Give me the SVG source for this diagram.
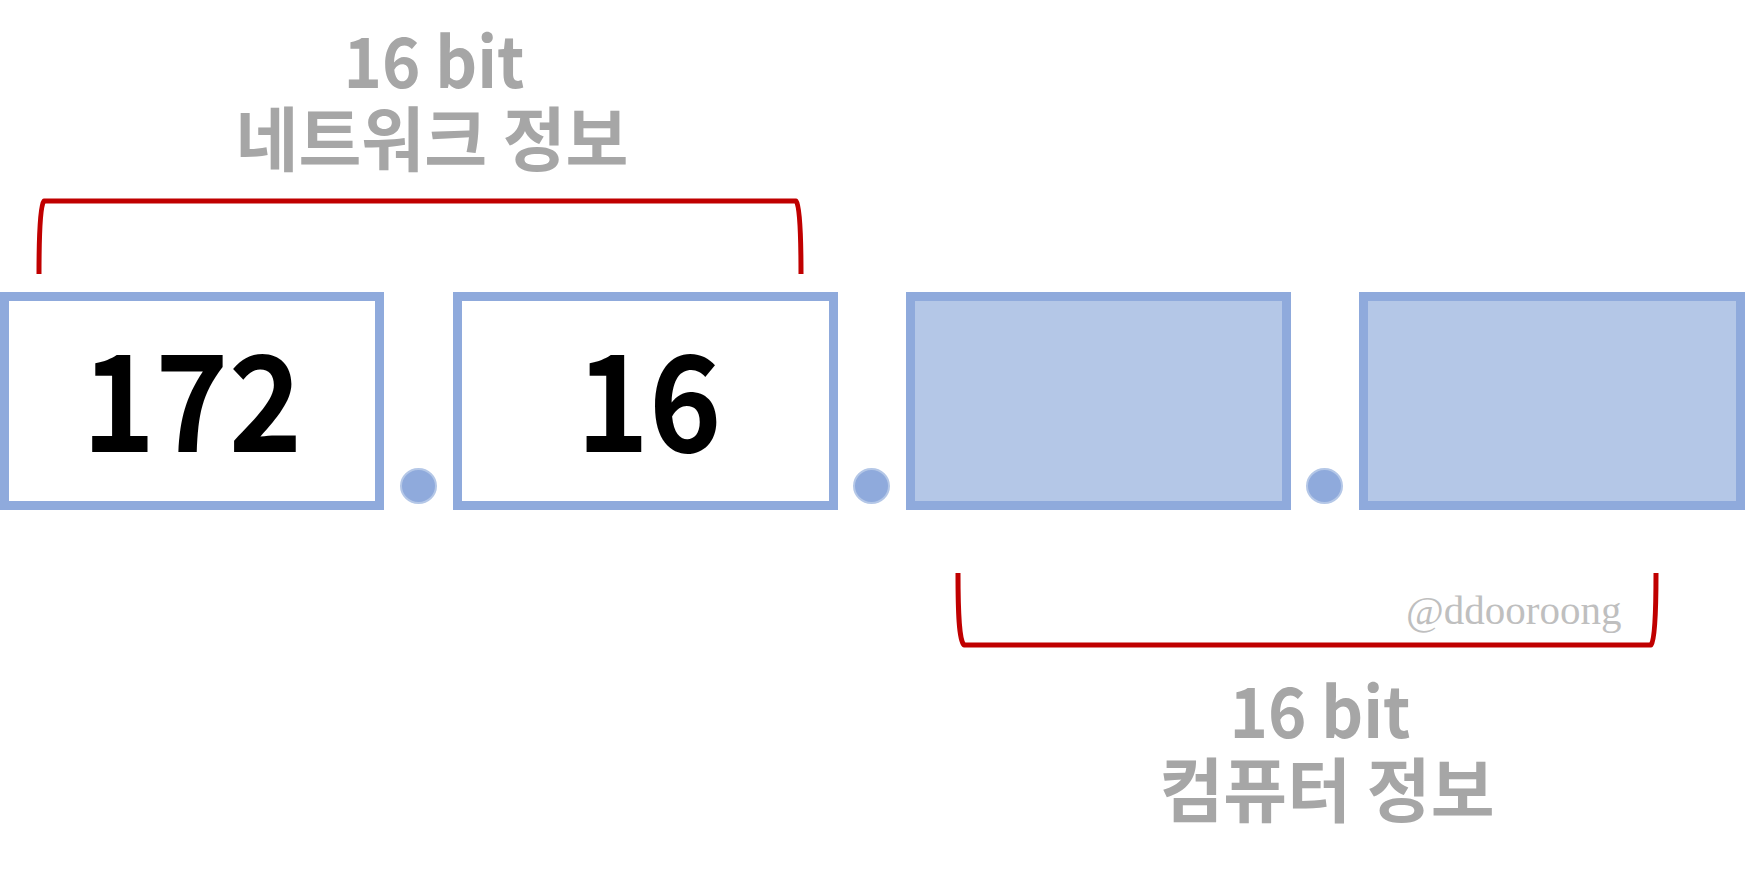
<svg xmlns="http://www.w3.org/2000/svg" width="1745" height="873" viewBox="0 0 1745 873">
<style>
.box{stroke:#8FAADC;stroke-width:9;}
.empty{fill:#FFFFFF;}
.filled{fill:#B4C7E7;}
.dot{fill:#8FAADC;stroke:#B4C7E7;stroke-width:2;}
.brace{fill:none;stroke:#C00000;stroke-width:5;stroke-linejoin:round;}
.lbl{font-family:"Noto Sans CJK KR","Noto Sans",sans-serif;font-weight:700;font-size:70px;fill:#A6A6A6;text-anchor:middle;}
.num{font-family:"Noto Sans CJK KR","Noto Sans",sans-serif;font-weight:700;font-size:134px;fill:#000000;text-anchor:middle;}
.wm{font-family:"Liberation Serif",serif;font-size:41px;fill:#BFBFBF;}
</style>
<rect width="1745" height="873" fill="#FFFFFF"/>
<g id="octet1">
<rect class="box empty" x="4.5" y="296.5" width="375" height="209"/>
<text class="num" x="192" y="452" textLength="220" lengthAdjust="spacingAndGlyphs">172</text>
</g>
<g id="octet2">
<rect class="box empty" x="457.5" y="296.5" width="376" height="209"/>
<text class="num" x="649" y="452" textLength="145" lengthAdjust="spacingAndGlyphs">16</text>
</g>
<g id="octet3">
<rect class="box filled" x="910.5" y="296.5" width="376" height="209"/>
</g>
<g id="octet4">
<rect class="box filled" x="1363.5" y="296.5" width="377" height="209"/>
</g>
<g id="dots">
<ellipse class="dot" cx="418.5" cy="486" rx="17.5" ry="17"/>
<ellipse class="dot" cx="871.5" cy="486" rx="17.5" ry="17"/>
<ellipse class="dot" cx="1324.5" cy="486" rx="17.5" ry="17"/>
</g>
<g id="connectors">
<path class="brace" d="M39 274 C39 235 40 206 44 201 L796 201 C800 206 801 235 801 274"/>
<path class="brace" d="M958 573 C958 612 959 640 964 645 L1651 645 C1655 640 1656 612 1656 573"/>
</g>
<g id="network-label">
<text class="lbl"><tspan x="434" y="88" textLength="181" lengthAdjust="spacingAndGlyphs">16 bit</tspan><tspan x="432" y="166" textLength="393" lengthAdjust="spacingAndGlyphs">네트워크 정보</tspan></text>
</g>
<g id="host-label">
<text class="lbl"><tspan x="1320" y="738" textLength="181" lengthAdjust="spacingAndGlyphs">16 bit</tspan><tspan x="1327" y="817" textLength="335" lengthAdjust="spacingAndGlyphs">컴퓨터 정보</tspan></text>
</g>
<text class="wm" x="1406" y="624">@ddooroong</text>
</svg>
